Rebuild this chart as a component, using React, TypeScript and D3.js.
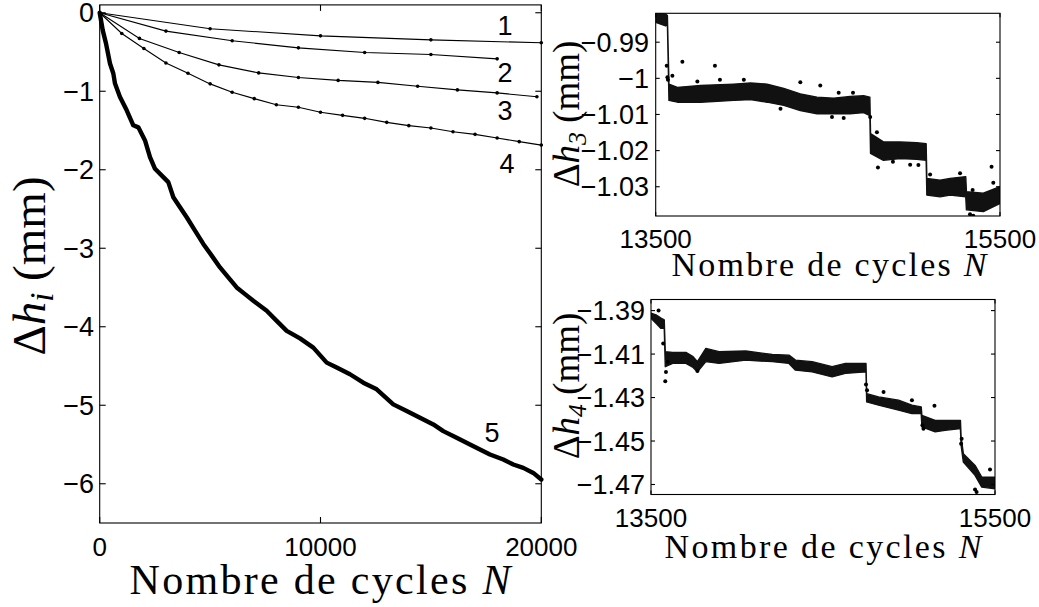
import React from 'react';
import * as d3 from 'd3';

// ---------- Main chart data ----------
const mainXTicks = [0, 10000, 20000];
const mainYTicks = [0, -1, -2, -3, -4, -5, -6];

const curve1N = [0, 5000, 10000, 15000, 20000];
const curve1H = [0, -0.204, -0.294, -0.345, -0.383];
const curve2N = [0, 3000, 6000, 9000, 12000, 15000, 18000];
const curve2H = [0, -0.234, -0.357, -0.447, -0.506, -0.532, -0.587];
const curve3N = [0, 1800, 3600, 5400, 7200, 9000, 10800, 12600, 14400, 16200, 18000, 19800];
const curve3H = [0, -0.327, -0.506, -0.664, -0.766, -0.825, -0.862, -0.887, -0.936, -0.983, -1.021, -1.07];
const curve4N = [0, 1000, 2000, 3000, 4000, 5000, 6000, 7000, 8000, 9000, 10000, 11000, 12000, 13000, 14000, 15000, 16000, 17000, 18000, 19000, 20000];
const curve4H = [0, -0.264, -0.455, -0.64, -0.77, -0.906, -1.013, -1.094, -1.172, -1.204, -1.268, -1.307, -1.345, -1.396, -1.438, -1.468, -1.515, -1.549, -1.596, -1.642, -1.686];
const curve5N = [0, 136, 285, 466, 617, 693, 919, 1223, 1522, 1750, 2052, 2278, 2505, 2882, 3107, 3335, 3637, 3940, 4316, 4692, 5072, 5448, 5824, 6204, 6580, 6957, 7563, 8016, 8469, 9071, 9674, 10281, 10733, 11336, 11938, 12545, 13297, 13902, 14506, 15109, 15561, 16166, 16770, 17676, 18277, 18732, 19183, 19637, 20000];
const curve5H = [0, -0.221, -0.39, -0.646, -0.774, -0.902, -1.072, -1.243, -1.434, -1.46, -1.626, -1.839, -1.988, -2.094, -2.158, -2.35, -2.478, -2.605, -2.775, -2.945, -3.094, -3.244, -3.372, -3.499, -3.584, -3.669, -3.797, -3.925, -4.052, -4.148, -4.266, -4.457, -4.52, -4.605, -4.713, -4.797, -4.989, -5.074, -5.16, -5.244, -5.33, -5.415, -5.5, -5.627, -5.691, -5.755, -5.798, -5.862, -5.946];
const curveLabels = ['1', '2', '3', '4', '5'];

// ---------- Inset 1 (Δh3) ----------
const inset1XTicks = [13500, 15500];
const inset1YTicks = [-0.99, -1, -1.01, -1.02, -1.03];
const band1N = [13500, 13529, 13558, 13568, 13577, 13626, 13761, 13954, 14051, 14147, 14244, 14340, 14437, 14534, 14630, 14708, 14744, 14748, 14823, 14920, 15017, 15071, 15075, 15152, 15210, 15301, 15305, 15403, 15500];
const band1Hi = [-0.9820, -0.9820, -0.9822, -0.9826, -1.0016, -1.0025, -1.0020, -1.0016, -1.0013, -1.0016, -1.0028, -1.0043, -1.0052, -1.0055, -1.0050, -1.0048, -1.0052, -1.0153, -1.0176, -1.0176, -1.0178, -1.0181, -1.0277, -1.0282, -1.0277, -1.0272, -1.0314, -1.0318, -1.0300];
const band1Lo = [-0.9845, -0.9850, -0.9855, -0.9850, -1.0061, -1.0066, -1.0066, -1.0061, -1.0059, -1.0066, -1.0075, -1.0089, -1.0098, -1.0098, -1.0098, -1.0095, -1.0103, -1.0208, -1.0227, -1.0222, -1.0224, -1.0227, -1.0323, -1.0328, -1.0323, -1.0328, -1.0364, -1.0369, -1.0346];
const out1N = [13564, 13568, 13571, 13655, 13844, 13873, 13597, 14340, 14456, 14563, 14646, 14746, 14785, 14791, 15026, 15094, 15268, 15341, 15451, 15461, 15326, 15345, 13742, 14012, 14225, 14524, 14592, 14878, 14978];
const out1H = [-0.9965, -0.9997, -1.0004, -0.9954, -0.9965, -1.0004, -0.9993, -1.0011, -1.0020, -1.0040, -1.0040, -1.0107, -1.0149, -1.0247, -1.0240, -1.0266, -1.0263, -1.0309, -1.0245, -1.0289, -1.0376, -1.0380, -1.0009, -1.0004, -1.0084, -1.0107, -1.0110, -1.0231, -1.0239];

// ---------- Inset 2 (Δh4) ----------
const inset2XTicks = [13500, 15500];
const inset2YTicks = [-1.39, -1.41, -1.43, -1.45, -1.47];
const band2N = [13500, 13529, 13558, 13577, 13583, 13626, 13703, 13742, 13770, 13819, 13896, 14051, 14205, 14302, 14340, 14437, 14553, 14630, 14750, 14754, 14823, 14939, 15017, 15071, 15075, 15152, 15210, 15299, 15303, 15316, 15384, 15423, 15500];
const band2Hi = [-1.3912, -1.3920, -1.3935, -1.3943, -1.4089, -1.4092, -1.4092, -1.4110, -1.4135, -1.4074, -1.4089, -1.4086, -1.4102, -1.4105, -1.4128, -1.4135, -1.4158, -1.4143, -1.4143, -1.4282, -1.4297, -1.4312, -1.4335, -1.4343, -1.4382, -1.4405, -1.4405, -1.4405, -1.4482, -1.4558, -1.4612, -1.4666, -1.4666];
const band2Lo = [-1.3935, -1.3958, -1.3982, -1.3982, -1.4158, -1.4143, -1.4143, -1.4160, -1.4182, -1.4135, -1.4143, -1.4128, -1.4135, -1.4143, -1.4174, -1.4182, -1.4205, -1.4189, -1.4182, -1.4320, -1.4335, -1.4358, -1.4374, -1.4374, -1.4435, -1.4458, -1.4451, -1.4443, -1.4520, -1.4597, -1.4658, -1.4712, -1.4720];
const out2N = [13544, 13571, 13583, 13587, 13597, 13770, 14852, 15017, 15148, 15084, 15471, 15384, 15393, 15306, 15303, 14750, 14756, 15078];
const out2H = [-1.3900, -1.4051, -1.4225, -1.4182, -1.4135, -1.4178, -1.4274, -1.4312, -1.4338, -1.4443, -1.4631, -1.4723, -1.4735, -1.4489, -1.4512, -1.4240, -1.4266, -1.4428];

const SANS = '"Liberation Sans", Arial, sans-serif';
const SERIF = '"Liberation Serif", "Times New Roman", serif';

const fmt = (v: number) => (v < 0 ? '\u2212' : '') + String(Math.abs(v));

function zip(n: number[], h: number[]) {
  return n.map((v, i) => [v, h[i]] as [number, number]);
}

function Frame({ x, y, tick, xTicks, yTicks }: any) {
  const [x0, x1] = x.range();
  const [y0, y1] = y.range(); // y0 bottom, y1 top
  return (
    <g stroke="#000" strokeWidth={1.1} fill="none">
      <rect x={x0} y={y1} width={x1 - x0} height={y0 - y1} />
      {xTicks.map((t: number) => (
        <g key={'x' + t}>
          <line x1={x(t)} x2={x(t)} y1={y0} y2={y0 - tick} />
          <line x1={x(t)} x2={x(t)} y1={y1} y2={y1 + tick} />
        </g>
      ))}
      {yTicks.map((t: number) => (
        <g key={'y' + t}>
          <line x1={x0} x2={x0 + tick} y1={y(t)} y2={y(t)} />
          <line x1={x1} x2={x1 - tick} y1={y(t)} y2={y(t)} />
        </g>
      ))}
    </g>
  );
}

function YLabel({ x, y, size, sub }: any) {
  return (
    <text transform={`translate(${x},${y}) rotate(-90)`} textAnchor="middle" fontFamily={SERIF} fontSize={size} fill="#000">
      <tspan>Δ</tspan>
      <tspan fontStyle="italic">h</tspan>
      <tspan fontStyle="italic" fontSize={size * 0.7} dy={size * 0.18}>{sub}</tspan>
      <tspan dy={-size * 0.18}>{'\u00a0(mm)'}</tspan>
    </text>
  );
}

function XLabel({ x, y, size, len }: any) {
  return (
    <text x={x} y={y} textAnchor="middle" fontFamily={SERIF} fontSize={size} fill="#000" textLength={len} lengthAdjust="spacing">
      <tspan>Nombre de cycles </tspan>
      <tspan fontStyle="italic">N</tspan>
    </text>
  );
}

function Inset({ id, xr, yr, domY, xTicks, yTicks, bandN, bandHi, bandLo, outN, outH, sub, yLabelX, yLabelY, xTickBase, yTickRight, xLabelX, xLabelY, xLabelLen }: any) {
  const x = d3.scaleLinear().domain([13500, 15500]).range(xr);
  const y = d3.scaleLinear().domain(domY).range(yr);
  const band = bandN.map((n: number, i: number) => ({ n, hi: bandHi[i], lo: bandLo[i] }));
  const area = d3.area<any>().x((d) => x(d.n)).y0((d) => y(d.lo)).y1((d) => y(d.hi));
  const outs = zip(outN, outH);
  return (
    <g>
      <defs>
        <clipPath id={id}>
          <rect x={xr[0]} y={yr[1]} width={xr[1] - xr[0]} height={yr[0] - yr[1]} />
        </clipPath>
      </defs>
      <g clipPath={`url(#${id})`}>
        <path d={area(band) || ''} fill="#111" stroke="#111" strokeWidth={1.4} strokeLinejoin="round" />
        {outs.map((p, i) => (
          <circle key={i} cx={x(p[0])} cy={y(p[1])} r={2} fill="#000" />
        ))}
      </g>
      <Frame x={x} y={y} tick={4} xTicks={xTicks} yTicks={yTicks} />
      {yTicks.map((t: number) => (
        <text key={t} x={yTickRight} y={y(t)} dy="0.36em" textAnchor="end" fontFamily={SANS} fontSize={27} fill="#000">{fmt(t)}</text>
      ))}
      {xTicks.map((t: number) => (
        <text key={t} x={x(t)} y={xTickBase} textAnchor="middle" fontFamily={SANS} fontSize={26} fill="#000">{String(t)}</text>
      ))}
      <YLabel x={yLabelX} y={yLabelY} size={37} sub={sub} />
      <XLabel x={xLabelX} y={xLabelY} size={34} len={xLabelLen} />
    </g>
  );
}

export default function App() {
  const x = d3.scaleLinear().domain([0, 20000]).range([99.7, 541.3]);
  const y = d3.scaleLinear().domain([-6.5, 0.1]).range([523, 4.9]);
  const line = d3.line<[number, number]>().x((d) => x(d[0])).y((d) => y(d[1]));
  const thin = [zip(curve1N, curve1H), zip(curve2N, curve2H), zip(curve3N, curve3H), zip(curve4N, curve4H)];
  const labelPos: [number, number][] = [[505, 35], [505, 82], [505, 120], [507, 173], [492, 442]];

  return (
    <svg width={1039} height={607} style={{ position: 'absolute', left: 0, top: 0, background: '#fff' }}>
      <rect width={1039} height={607} fill="#fff" />
      {thin.map((c, i) => (
        <g key={i}>
          <path d={line(c) || ''} fill="none" stroke="#000" strokeWidth={1.1} />
          {c.slice(1).map((p, j) => (
            <circle key={j} cx={x(p[0])} cy={y(p[1])} r={1.8} fill="#000" />
          ))}
        </g>
      ))}
      <path d={line(zip(curve5N, curve5H)) || ''} fill="none" stroke="#000" strokeWidth={4.4} strokeLinejoin="round" strokeLinecap="round" />
      <Frame x={x} y={y} tick={6} xTicks={mainXTicks} yTicks={mainYTicks} />
      {mainYTicks.map((t) => (
        <text key={t} x={94} y={y(t)} dy="0.36em" textAnchor="end" fontFamily={SANS} fontSize={27} fill="#000">{fmt(t)}</text>
      ))}
      {mainXTicks.map((t) => (
        <text key={t} x={x(t)} y={556} textAnchor="middle" fontFamily={SANS} fontSize={26} fill="#000">{String(t)}</text>
      ))}
      {curveLabels.map((l, i) => (
        <text key={l} x={labelPos[i][0]} y={labelPos[i][1]} textAnchor="middle" fontFamily={SANS} fontSize={27} fill="#000">{l}</text>
      ))}
      <YLabel x={45} y={266} size={47} sub="i" />
      <XLabel x={320} y={594} size={42} len={381} />

      <Inset id="c1" xr={[655.7, 1000]} yr={[216, 13.3]} domY={[-1.0381, -0.982]} xTicks={inset1XTicks} yTicks={inset1YTicks}
        bandN={band1N} bandHi={band1Hi} bandLo={band1Lo} outN={out1N} outH={out1H} sub="3"
        yLabelX={579} yLabelY={114} xTickBase={248} yTickRight={649} xLabelX={829} xLabelY={276} xLabelLen={315} />
      <Inset id="c2" xr={[651, 995]} yr={[494.5, 299.5]} domY={[-1.4746, -1.3849]} xTicks={inset2XTicks} yTicks={inset2YTicks}
        bandN={band2N} bandHi={band2Hi} bandLo={band2Lo} outN={out2N} outH={out2H} sub="4"
        yLabelX={579} yLabelY={386} xTickBase={527} yTickRight={645} xLabelX={823} xLabelY={558} xLabelLen={317} />
    </svg>
  );
}
